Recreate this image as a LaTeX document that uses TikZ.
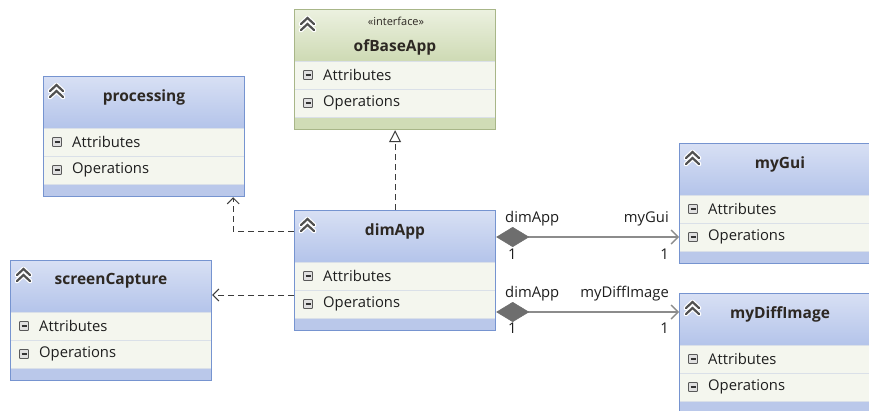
\documentclass[tikz,border=0pt]{standalone}
\usepackage{fontspec}
\setmainfont{Open Sans}
\usetikzlibrary{arrows.meta}
\definecolor{btop}{RGB}{216,224,244}
\definecolor{bbot}{RGB}{180,196,234}
\definecolor{bstrip}{RGB}{186,200,234}
\definecolor{bborder}{RGB}{118,148,208}
\definecolor{gtop}{RGB}{236,241,224}
\definecolor{gbot}{RGB}{206,218,180}
\definecolor{gstrip}{RGB}{208,220,182}
\definecolor{gborder}{RGB}{168,182,136}
\definecolor{rowbg}{RGB}{244,246,238}
\definecolor{sepcol}{RGB}{218,224,232}
\definecolor{chevcol}{RGB}{80,80,80}
\definecolor{txtcol}{RGB}{30,30,30}
\definecolor{titlecol}{RGB}{45,40,35}
\definecolor{linecol}{RGB}{140,140,140}
\definecolor{diamcol}{RGB}{110,110,110}
\definecolor{dashcol}{RGB}{60,60,60}
\newcommand\umlclass[6]{%
  \shade[top color=#4top, bottom color=#4bot] (#2,#3) rectangle (#2+201,#3+52);
  \fill[rowbg] (#2,#3+52) rectangle (#2+201,#3+108);
  \fill[#4strip] (#2,#3+108) rectangle (#2+201,#3+120);
  \draw[sepline] (#2,#3+52) -- (#2+201,#3+52);
  \draw[sepline] (#2,#3+80) -- (#2+201,#3+80);
  \draw[sepline] (#2,#3+108) -- (#2+201,#3+108);
  \node[boxframe, draw=#4border, anchor=north west] (#1) at (#2,#3) {};
  \draw[chevout] (#2+7,#3+15) -- (#2+13.5,#3+9) -- (#2+20,#3+15);
  \draw[chevout] (#2+7,#3+21) -- (#2+13.5,#3+15) -- (#2+20,#3+21);
  \draw[chevin] (#2+7,#3+15) -- (#2+13.5,#3+9) -- (#2+20,#3+15);
  \draw[chevin] (#2+7,#3+21) -- (#2+13.5,#3+15) -- (#2+20,#3+21);
  \node[titletext] (#1-title) at (#2+101,#3+#6) {#5};
  \draw[minusbox] (#2+9.5,#3+61.5) rectangle (#2+18.5,#3+70.5);
  \draw[minusbar] (#2+11.5,#3+66) -- (#2+16.5,#3+66);
  \draw[minusbox] (#2+9.5,#3+89.5) rectangle (#2+18.5,#3+98.5);
  \draw[minusbar] (#2+11.5,#3+94) -- (#2+16.5,#3+94);
  \node[rowtext] (#1-attr) at (#2+29,#3+66) {Attributes};
  \node[rowtext] (#1-ops) at (#2+29,#3+94) {Operations};
}
\begin{document}
\begin{tikzpicture}[x=1pt,y=-1pt,
  boxframe/.style={line width=1.2pt, minimum width=201pt, minimum height=120pt, inner sep=0pt},
  sepline/.style={draw=sepcol, line width=0.8pt},
  chevout/.style={draw=white, line width=4.6pt, line cap=round, line join=round},
  chevin/.style={draw=chevcol, line width=2.2pt, line cap=round, line join=miter},
  minusbox/.style={draw=black!65, fill=black!12, line width=0.9pt, rounded corners=0.8pt},
  minusbar/.style={draw=black!80, line width=1.3pt},
  rowtext/.style={anchor=west, inner sep=0pt, text=txtcol, font=\fontsize{14.8}{16}\selectfont},
  titletext/.style={inner sep=0pt, text=titlecol, font=\bfseries\fontsize{15.5}{17}\selectfont},
  stereo/.style={inner sep=0pt, text=titlecol, font=\fontsize{11}{12}\selectfont},
  lbl/.style={inner sep=0pt, text=txtcol, font=\fontsize{14.8}{16}\selectfont},
  dep/.style={draw=dashcol, line width=1pt, dash pattern=on 6pt off 4pt, -{Straight Barb[length=6pt, width=12pt, line width=1pt]}},
  realize/.style={draw=dashcol, line width=1pt, dash pattern=on 6pt off 4pt, -{Triangle[open, length=12pt, width=12pt, line width=1pt, fill=white]}},
  comp/.style={draw=linecol, line width=1.6pt, {Diamond[length=33pt, width=20pt, fill=diamcol, color=diamcol, line width=0.5pt]}-{Straight Barb[length=7pt, width=14pt, line width=1.4pt]}}
]
\useasboundingbox (0,0) rectangle (869,410);
\clip (0,0) rectangle (869,410);
\fill[white] (0,0) rectangle (869,410);

\umlclass{ofBaseApp}{294}{9}{g}{ofBaseApp}{38}
\node[stereo] (ofBaseApp-stereo) at (396,21) {«interface»};
\umlclass{processing}{43}{76}{b}{processing}{21}
\umlclass{dimApp}{294}{210}{b}{dimApp}{21}
\umlclass{screenCapture}{10}{260}{b}{screenCapture}{21}
\umlclass{myGui}{679}{143}{b}{myGui}{21}
\umlclass{myDiffImage}{679}{293}{b}{myDiffImage}{21}

% realization
\draw[realize] (dimApp.north) -- (ofBaseApp.south);
% dependencies
\draw[dep] ([yshift=-21pt]dimApp.north west) -| ([xshift=-12pt]processing.south east);
\draw[dep] ([yshift=-85pt]dimApp.north west) coordinate (s1) -- (s1 -| screenCapture.east);
% compositions
\draw[comp] ([yshift=-27pt]dimApp.north east) coordinate (c1) -- (c1 -| myGui.west);
\draw[comp] ([yshift=-102pt]dimApp.north east) coordinate (c2) -- (c2 -| myDiffImage.west);

\node[lbl, anchor=west] (g1) at (505,219) {dimApp};
\node[lbl, anchor=west] (g2) at (508,254) {1};
\node[lbl, anchor=east] (g3) at (669,219) {myGui};
\node[lbl, anchor=east] (g4) at (669,254) {1};
\node[lbl, anchor=west] (d1) at (505,294) {dimApp};
\node[lbl, anchor=west] (d2) at (508,328) {1};
\node[lbl, anchor=east] (d3) at (669,294) {myDiffImage};
\node[lbl, anchor=east] (d4) at (669,328) {1};
\end{tikzpicture}
\end{document}
